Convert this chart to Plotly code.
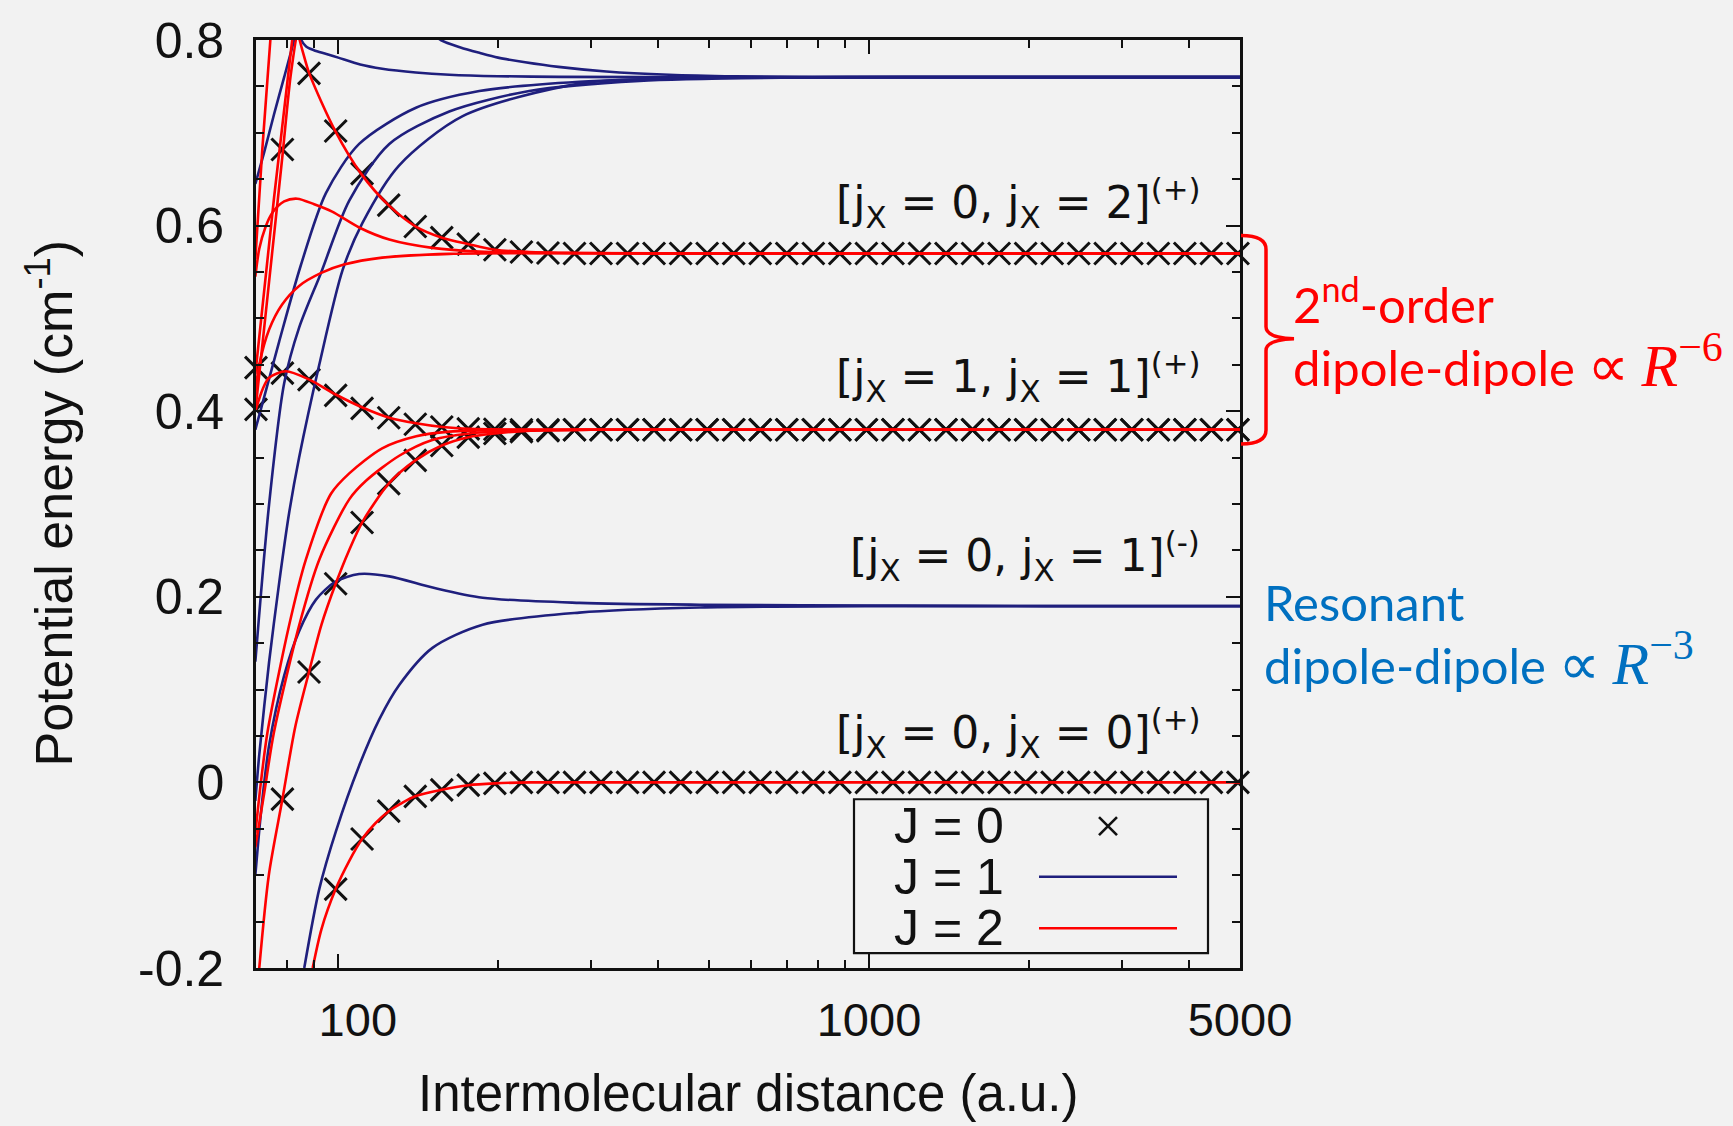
import numpy as np
import plotly.graph_objects as go

NAVY = "#1f1f7d"
RED = "#ff0000"
INK = "#111111"
BG = "#f2f2f2"

# ---------------- J = 0 points (crosses), common distance grid (a.u.) ----------------
R_J0 = [70.0, 78.5, 88.1, 98.9, 110.9, 124.5, 139.7, 156.7, 175.8, 197.3,
        221.4, 248.4, 278.7, 312.7, 350.8, 393.6, 441.7, 495.6, 556.0, 623.9,
        700.0, 785.4, 881.3, 988.8, 1109.4, 1244.8, 1396.7, 1567.1, 1758.3, 1972.9,
        2213.6, 2483.7, 2786.7, 3126.8, 3508.3, 3936.4, 4416.7, 4955.6]

# [jX=0, jX=0](+)
E_J0_00 = [None, None, None, -0.115, -0.061, -0.031, -0.015, -0.008, -0.003, -0.001,
           0.0, 0.0, 0.0, 0.0, 0.0, 0.0, 0.0, 0.0, 0.0, 0.0,
           0.0, 0.0, 0.0, 0.0, 0.0, 0.0, 0.0, 0.0, 0.0, 0.0,
           0.0, 0.0, 0.0, 0.0, 0.0, 0.0, 0.0, 0.0]
# [jX=1, jX=1](+), lower branch
E_J0_11_lo = [None, -0.018, 0.119, 0.214, 0.280, 0.322, 0.347, 0.363, 0.372, 0.376,
              0.378, 0.379, 0.38, 0.38, 0.38, 0.38, 0.38, 0.38, 0.38, 0.38,
              0.38, 0.38, 0.38, 0.38, 0.38, 0.38, 0.38, 0.38, 0.38, 0.38,
              0.38, 0.38, 0.38, 0.38, 0.38, 0.38, 0.38, 0.38]
# [jX=1, jX=1](+), upper branch
E_J0_11_hi = [0.447, 0.441, 0.434, 0.417, 0.403, 0.393, 0.386, 0.383, 0.381, 0.3805,
              0.38, 0.38, 0.38, 0.38, 0.38, 0.38, 0.38, 0.38, 0.38, 0.38,
              0.38, 0.38, 0.38, 0.38, 0.38, 0.38, 0.38, 0.38, 0.38, 0.38,
              0.38, 0.38, 0.38, 0.38, 0.38, 0.38, 0.38, 0.38]
# [jX=0, jX=2](+)
E_J0_02 = [0.402, 0.682, 0.764, 0.702, 0.656, 0.622, 0.599, 0.587, 0.580, 0.574,
           0.5715, 0.5705, 0.57, 0.57, 0.57, 0.57, 0.57, 0.57, 0.57, 0.57,
           0.57, 0.57, 0.57, 0.57, 0.57, 0.57, 0.57, 0.57, 0.57, 0.57,
           0.57, 0.57, 0.57, 0.57, 0.57, 0.57, 0.57, 0.57]

# ---------------- J = 1 curves ----------------
R_J1_a = [148.0, 156.0, 170.0, 185.0, 200.0, 225.0, 260.0, 320.0, 420.0, 560.0, 800.0, 5000.0]
E_J1_a = [0.81, 0.80, 0.792, 0.786, 0.781, 0.776, 0.771, 0.766, 0.7625, 0.7608, 0.76, 0.76]

R_J1_b = [84.0, 85.2, 87.0, 90.0, 95.0, 100.0, 110.0, 121.0, 140.0, 162.0, 200.0, 260.0, 400.0, 5000.0]
E_J1_b = [0.815, 0.80, 0.793, 0.789, 0.785, 0.781, 0.7735, 0.769, 0.765, 0.7626, 0.761, 0.7603, 0.76, 0.76]

R_J1_c = [69.8, 72.6, 75.7, 79.1, 82.6, 83.5]
E_J1_c = [0.645, 0.68, 0.72, 0.76, 0.80, 0.812]

R_J1_d = [69.8, 77.4, 85.0, 94.8, 109.5, 140.1, 184.4, 284.6, 479.2, 917.0, 5000.0]
E_J1_d = [0.38, 0.475, 0.557, 0.635, 0.688, 0.727, 0.745, 0.755, 0.759, 0.76, 0.76]

R_J1_e = [69.8, 74.1, 79.1, 84.4, 92.8, 104.9, 124.8, 161.9, 229.0, 369.6, 739.6, 1762.0, 5000.0]
E_J1_e = [0.13, 0.30, 0.43, 0.49, 0.549, 0.627, 0.688, 0.723, 0.745, 0.756, 0.7595, 0.76, 0.76]

R_J1_f = [69.8, 71.0, 74.1, 77.4, 80.8, 84.4, 92.1, 101.9, 111.1, 130.3, 171.6, 284.6, 479.2, 1142.0, 5000.0]
E_J1_f = [-0.02, 0.03, 0.13, 0.215, 0.29, 0.35, 0.45, 0.552, 0.603, 0.665, 0.718, 0.753, 0.759, 0.76, 0.76]

R_J1_g = [86.3, 92.1, 99.0, 109.5, 119.5, 130.3, 150.5, 187.1, 284.6, 479.2, 1142.0, 5000.0]
E_J1_g = [-0.2, -0.115, -0.0527, 0.018, 0.068, 0.105, 0.145, 0.170, 0.183, 0.1885, 0.19, 0.19]

R_J1_h = [69.8, 71.6, 74.1, 79.1, 84.4, 90.8, 98.7, 109.5, 124.8, 150.6, 187.1, 284.6, 479.2, 1142.0, 2152.0, 5000.0]
E_J1_h = [-0.10, -0.03, 0.04, 0.115, 0.163, 0.197, 0.216, 0.2245, 0.222, 0.21, 0.199, 0.1935, 0.1915, 0.1905, 0.19, 0.19]

# ---------------- J = 2 curves ----------------
R_J2_a = [89.5, 93.0, 98.9, 104.8, 110.9, 117.5, 124.5, 132.0, 139.7, 156.7, 175.8, 197.3, 230.0, 280.0, 5000.0]
E_J2_a = [-0.2, -0.158, -0.115, -0.085, -0.061, -0.044, -0.031, -0.022, -0.015, -0.008, -0.003, -0.001, 0.0, 0.0, 0.0]

R_J2_b = [71.0, 74.0, 78.5, 83.0, 88.1, 93.0, 98.9, 104.8, 110.9, 124.5, 139.7, 156.7, 175.8, 197.3, 230.0, 300.0, 5000.0]
E_J2_b = [-0.2, -0.1, -0.018, 0.06, 0.119, 0.17, 0.214, 0.25, 0.280, 0.322, 0.347, 0.363, 0.372, 0.376, 0.379, 0.38, 0.38]

R_J2_c = [69.8, 71.5, 73.6, 80.8, 86.9, 96.9, 104.9, 121.0, 140.3, 161.9, 219.1, 5000.0]
E_J2_c = [-0.055, 0.0, 0.0545, 0.169, 0.24, 0.311, 0.333, 0.36, 0.373, 0.378, 0.38, 0.38]

R_J2_d = [69.8, 72.6, 75.7, 84.4, 92.1, 104.9, 112.8, 130.3, 150.4, 176.6, 219.1, 310.5, 5000.0]
E_J2_d = [-0.07, -0.01, 0.0545, 0.169, 0.24, 0.305, 0.325, 0.352, 0.369, 0.376, 0.379, 0.38, 0.38]

R_J2_e = [69.8, 74.1, 78.5, 81.5, 83.9, 85.5, 88.2, 98.7, 110.4, 124.4, 140.0, 156.9, 176.2, 197.6, 229.0, 284.6, 385.7, 5000.0]
E_J2_e = [0.40, 0.54, 0.675, 0.765, 0.805, 0.79, 0.764, 0.702, 0.656, 0.622, 0.599, 0.587, 0.580, 0.574, 0.5715, 0.5705, 0.57, 0.57]

R_J2_f = [69.8, 71.9, 74.5, 75.0]
E_J2_f = [0.564, 0.68, 0.80, 0.83]

R_J2_g = [69.8, 75.7, 81.9, 83.0]
E_J2_g = [0.44, 0.63, 0.80, 0.835]

R_J2_h = [69.8, 71.0, 72.9, 75.2, 79.1, 83.7, 90.1, 97.4, 109.5, 124.8, 150.4, 184.4, 260.5, 479.2, 5000.0]
E_J2_h = [0.545, 0.575, 0.598, 0.614, 0.626, 0.629, 0.623, 0.615, 0.598, 0.585, 0.576, 0.572, 0.5705, 0.57, 0.57]

R_J2_i = [69.8, 71.0, 74.1, 78.4, 84.4, 92.9, 102.5, 121.0, 161.9, 249.8, 479.2, 5000.0]
E_J2_i = [0.42, 0.45, 0.488, 0.515, 0.535, 0.549, 0.558, 0.5655, 0.5695, 0.5702, 0.57, 0.57]

R_J2_j = [69.8, 72.2, 74.1, 79.7, 88.2, 98.9, 111.1, 124.8, 140.1, 157.3, 176.6, 219.1, 310.5, 5000.0]
E_J2_j = [0.40, 0.425, 0.436, 0.443, 0.434, 0.418, 0.404, 0.393, 0.387, 0.383, 0.381, 0.3802, 0.38, 0.38]

# ---------------- axes / labels ----------------
X_TICKS = [100, 1000, 5000]
X_TICK_TEXT = ["\u2007 100", "1000", "5000"]
X_MINOR = [80, 90, 200, 300, 400, 500, 600, 700, 800, 900, 2000, 3000, 4000]
Y_TICKS = [-0.2, 0.0, 0.2, 0.4, 0.6, 0.8]
Y_TICK_TEXT = ["-0.2", "0", "0.2", "0.4", "0.6", "0.8"]
Y_MINOR = [-0.15, -0.1, -0.05, 0.05, 0.1, 0.15, 0.25, 0.3, 0.35, 0.45, 0.5, 0.55, 0.65, 0.7, 0.75]

STATE_LABELS = [
    ("[j<sub>X</sub> = 0, j<sub>X</sub> = 2]<sup>(+)</sup>", 0.624),
    ("[j<sub>X</sub> = 1, j<sub>X</sub> = 1]<sup>(+)</sup>", 0.437),
    ("[j<sub>X</sub> = 0, j<sub>X</sub> = 1]<sup>(-)</sup>", 0.244),
    ("[j<sub>X</sub> = 0, j<sub>X</sub> = 0]<sup>(+)</sup>", 0.053),
]
LEGEND_LABELS = ["J = 0", "J = 1", "J = 2"]

# ---------------- figure geometry (pixels) ----------------
W, H = 1733, 1126
L, R, T, B = 256, 1240, 33, 968


def px_x(x):
    return (x - L) / (R - L)


def px_y(y):
    return (B - y) / (B - T)


fig = go.Figure()

# J = 0 crosses
for e in (E_J0_00, E_J0_11_lo, E_J0_11_hi, E_J0_02):
    fig.add_trace(go.Scatter(
        x=R_J0, y=e, mode="markers", cliponaxis=False, hoverinfo="skip",
        marker=dict(symbol="x-thin", size=22, color=INK, line=dict(width=3, color=INK)),
    ))

J1_CURVES = [(R_J1_a, E_J1_a), (R_J1_b, E_J1_b), (R_J1_c, E_J1_c), (R_J1_d, E_J1_d),
             (R_J1_e, E_J1_e), (R_J1_f, E_J1_f), (R_J1_g, E_J1_g), (R_J1_h, E_J1_h)]
J2_CURVES = [(R_J2_a, E_J2_a), (R_J2_b, E_J2_b), (R_J2_c, E_J2_c), (R_J2_d, E_J2_d),
             (R_J2_e, E_J2_e), (R_J2_f, E_J2_f), (R_J2_g, E_J2_g), (R_J2_h, E_J2_h),
             (R_J2_i, E_J2_i), (R_J2_j, E_J2_j)]

for r, e in J1_CURVES:
    fig.add_trace(go.Scatter(x=r, y=e, mode="lines", hoverinfo="skip",
                             line=dict(color=NAVY, width=2.6, shape="spline", smoothing=0.8)))
for r, e in J2_CURVES:
    fig.add_trace(go.Scatter(x=r, y=e, mode="lines", hoverinfo="skip",
                             line=dict(color=RED, width=2.6, shape="spline", smoothing=0.8)))

# legend samples on an overlay unit axis
LEG_Y = [px_y(825), px_y(876), px_y(928)]
fig.add_trace(go.Scatter(x=[px_x(1108)], y=[LEG_Y[0]], xaxis="x2", yaxis="y2", mode="markers",
                         hoverinfo="skip", cliponaxis=False,
                         marker=dict(symbol="x-thin", size=18, color=INK, line=dict(width=2.6, color=INK))))
fig.add_trace(go.Scatter(x=[px_x(1039), px_x(1177)], y=[LEG_Y[1], LEG_Y[1]], xaxis="x2", yaxis="y2",
                         mode="lines", hoverinfo="skip", line=dict(color=NAVY, width=2.6)))
fig.add_trace(go.Scatter(x=[px_x(1039), px_x(1177)], y=[LEG_Y[2], LEG_Y[2]], xaxis="x2", yaxis="y2",
                         mode="lines", hoverinfo="skip", line=dict(color=RED, width=2.6)))

annotations = []
for text, yv in STATE_LABELS:
    annotations.append(dict(text=text, x=px_x(1202), xref="paper", y=yv, yref="y",
                            xanchor="right", yanchor="middle", showarrow=False,
                            font=dict(family="DejaVu Sans", size=44, color=INK)))
for lab, yv in zip(LEGEND_LABELS, LEG_Y):
    annotations.append(dict(text=lab, x=px_x(892), xref="paper", y=yv, yref="paper",
                            xanchor="left", yanchor="middle", showarrow=False,
                            font=dict(family="Liberation Sans", size=50, color=INK)))

annotations.append(dict(text="Intermolecular distance (a.u.)", x=0.5, xref="paper", y=px_y(1094),
                        yref="paper", xanchor="center", yanchor="middle", showarrow=False,
                        font=dict(family="Liberation Sans", size=51, color=INK)))
annotations.append(dict(text="Potential energy (cm<sup>-1</sup>)", x=px_x(50), xref="paper",
                        y=px_y(500), yref="paper", xanchor="center", yanchor="middle",
                        textangle=-90, showarrow=False,
                        font=dict(family="Liberation Sans", size=52, color=INK)))

MATH = ("<span style=\"font-family:'DejaVu Sans';font-size:58px\">∝</span> "
        "<span style=\"font-family:'Liberation Serif';font-size:60px\"><i>R</i><sup>−{}</sup></span>")
annotations.append(dict(text="2<sup>nd</sup>-order", x=px_x(1291), xref="paper", y=px_y(295),
                        yref="paper", xanchor="left", yanchor="middle", showarrow=False,
                        font=dict(family="Lato", size=49, color=RED)))
annotations.append(dict(text="dipole-dipole " + MATH.format(6),
                        x=px_x(1291), xref="paper", y=px_y(357), yref="paper", xanchor="left",
                        yanchor="middle", showarrow=False, font=dict(family="Lato", size=49, color=RED)))
annotations.append(dict(text="Resonant", x=px_x(1262), xref="paper", y=px_y(599), yref="paper",
                        xanchor="left", yanchor="middle", showarrow=False,
                        font=dict(family="Lato", size=49, color="#0070c0")))
annotations.append(dict(text="dipole-dipole " + MATH.format(3),
                        x=px_x(1262), xref="paper", y=px_y(658), yref="paper", xanchor="left",
                        yanchor="middle", showarrow=False,
                        font=dict(family="Lato", size=49, color="#0070c0")))


def brace_path():
    pts = [(1241, 230), (1266, 230), (1266, 244), (1266, 322), (1266, 333), (1294, 334),
           (1266, 335), (1266, 346), (1266, 426), (1266, 440), (1241, 440)]
    p = [(px_x(x), px_y(y)) for x, y in pts]
    return (f"M {p[0][0]},{p[0][1]} Q {p[1][0]},{p[1][1]} {p[2][0]},{p[2][1]} "
            f"L {p[3][0]},{p[3][1]} Q {p[4][0]},{p[4][1]} {p[5][0]},{p[5][1]} "
            f"Q {p[6][0]},{p[6][1]} {p[7][0]},{p[7][1]} L {p[8][0]},{p[8][1]} "
            f"Q {p[9][0]},{p[9][1]} {p[10][0]},{p[10][1]}")


shapes = [
    dict(type="rect", xref="paper", yref="paper", x0=px_x(854), x1=px_x(1208),
         y0=px_y(953), y1=px_y(798), line=dict(color=INK, width=2.2), fillcolor=BG, layer="below"),
    dict(type="path", xref="paper", yref="paper", path=brace_path(),
         line=dict(color=RED, width=3.5)),
]

axis_common = dict(showline=True, linewidth=2.6, linecolor=INK, mirror="allticks",
                   ticks="inside", ticklen=14, tickwidth=2, tickcolor=INK,
                   showgrid=False, zeroline=False)

fig.update_layout(
    width=W, height=H,
    margin=dict(l=L, r=W - R, t=T, b=H - B),
    paper_bgcolor=BG, plot_bgcolor=BG,
    showlegend=False,
    xaxis=dict(type="log", range=[np.log10(70), np.log10(5000)],
               tickmode="array", tickvals=X_TICKS, ticktext=X_TICK_TEXT,
               ticklabelstandoff=9,
               tickfont=dict(family="Liberation Sans", size=47, color=INK),
               minor=dict(tickmode="array", tickvals=X_MINOR, ticks="inside", ticklen=8,
                          tickwidth=2, tickcolor=INK, showgrid=False),
               **axis_common),
    yaxis=dict(range=[-0.2, 0.8], tickmode="array", tickvals=Y_TICKS, ticktext=Y_TICK_TEXT,
               ticklabelstandoff=19,
               tickfont=dict(family="Liberation Sans", size=50, color=INK),
               minor=dict(tickmode="array", tickvals=Y_MINOR, ticks="inside", ticklen=8,
                          tickwidth=2, tickcolor=INK, showgrid=False),
               **axis_common),
    xaxis2=dict(overlaying="x", range=[0, 1], visible=False, fixedrange=True),
    yaxis2=dict(overlaying="y", range=[0, 1], visible=False, fixedrange=True),
    annotations=annotations,
    shapes=shapes,
)

fig.write_html("out.html")
